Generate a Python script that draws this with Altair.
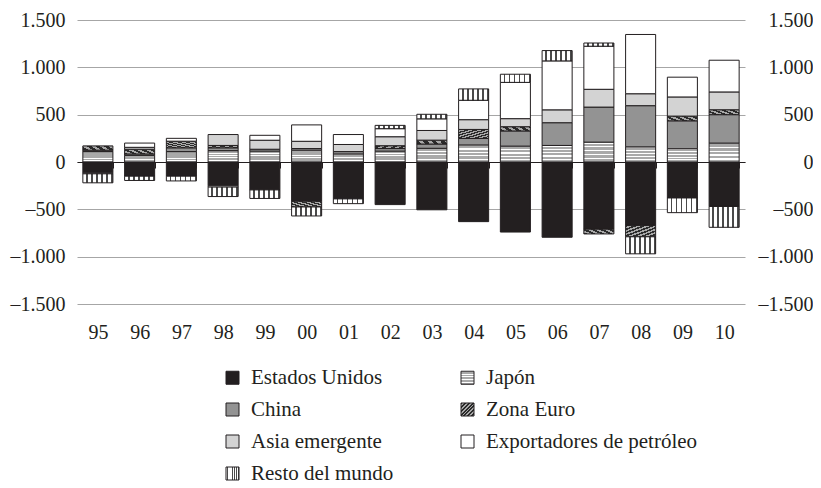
import altair as alt
import pandas as pd

# ---------------- data ----------------
years = ["95", "96", "97", "98", "99", "00", "01", "02", "03", "04", "05", "06", "07", "08", "09", "10"]
regions = ["Estados Unidos", "Japón", "China", "Zona Euro", "Asia emergente",
           "Exportadores de petróleo", "Resto del mundo"]

estados_unidos = [-115, -150, -150, -250, -295, -415, -390, -450, -505, -630, -740, -795, -710, -670, -380, -470]
japon = [110, 70, 110, 120, 115, 125, 85, 115, 145, 180, 168, 175, 210, 160, 140, 200]
china = [15, 15, 40, 30, 20, 17, 25, 27, 45, 69, 160, 240, 370, 435, 295, 300]
zona_euro = [45, 50, 70, 25, 0, -60, 0, 30, 41, 95, 45, 0, -50, -120, 50, 52]
asia_emergente = [0, 20, 0, 115, 95, 77, 75, 95, 102, 103, 85, 136, 188, 126, 202, 188]
exportadores = [-10, 45, 30, -15, 52, 173, 105, 85, 123, 205, 383, 517, 455, 626, 209, 335]
resto_mundo = [-95, -45, -50, -100, -90, -95, -50, 35, 48, 120, 86, 109, 34, -180, -155, -220]

tick_values = [-1500, -1000, -500, 0, 500, 1000, 1500]

series = [estados_unidos, japon, china, zona_euro, asia_emergente, exportadores, resto_mundo]
rows = []
for k, (name, vals) in enumerate(zip(regions, series)):
    for y, v in zip(years, vals):
        rows.append({"year": y, "region": name, "value": v, "order": k})
df = pd.DataFrame(rows)

# ---------------- styles ----------------
FONT = "Liberation Serif"
INK = "#231f20"


def stripe_expr(c1, c2, n, frac, x2, y2):
    stops = []
    for i in range(n):
        a = i / n
        b = (i + frac) / n
        c = (i + 1) / n
        stops.append("{offset: %.4f, color: '%s'}" % (a, c1))
        stops.append("{offset: %.4f, color: '%s'}" % (b, c1))
        stops.append("{offset: %.4f, color: '%s'}" % (b, c2))
        stops.append("{offset: %.4f, color: '%s'}" % (c, c2))
    return ("({gradient: 'linear', x1: 0, y1: 0, x2: %d, y2: %d, stops: [%s]})"
            % (x2, y2, ", ".join(stops)))


fills = [
    INK,
    alt.ExprRef(expr=stripe_expr("#ffffff", "#a9a9a9", 5, 0.35, 0, 1)),   # Japón: horizontal stripes
    "#939393",
    alt.ExprRef(expr=stripe_expr("#2b2b2b", "#a8a8a8", 7, 0.5, 1, 1)),    # Zona Euro: texture
    "#d3d3d3",
    "#ffffff",
    alt.ExprRef(expr=stripe_expr("#ffffff", "#4a4a4a", 6, 0.65, 1, 0)),   # Resto: dotted-like
]

label_expr = "replace(replace(format(datum.value, ','), ',', '.'), '\u2212', '\u2013')"

base = alt.Chart(df).transform_filter("datum.value != 0")

bars = base.mark_bar(stroke=INK, strokeWidth=1).encode(
    x=alt.X("year:N", sort=years,
            scale=alt.Scale(paddingInner=0.28, paddingOuter=0.14),
            axis=alt.Axis(title=None, orient="bottom", offset=-142, tickBand="extent",
                          ticks=True, tickSize=6, tickColor=INK, tickWidth=1,
                          domain=True, domainColor=INK, domainWidth=1,
                          grid=False, labelAngle=0, labelBaseline="alphabetic",
                          labelPadding=170, labelFont=FONT, labelFontSize=20,
                          labelColor=INK)),
    y=alt.Y("value:Q", stack="zero",
            scale=alt.Scale(domain=[-1500, 1500], nice=False, zero=False),
            axis=alt.Axis(title=None, orient="left", values=tick_values, grid=True,
                          gridColor="#a6a6a6", gridWidth=1, domain=False, ticks=False,
                          tickSize=0, labelPadding=12, labelFont=FONT, labelFontSize=20,
                          labelColor=INK, labelExpr=label_expr)),
    fill=alt.Fill("region:N",
                  scale=alt.Scale(domain=regions, range=fills),
                  legend=alt.Legend(orient="none", legendX=145, legendY=347, columns=2,
                                    direction="horizontal",
                                    title=None, symbolType="square", symbolSize=169,
                                    symbolStrokeColor=INK, symbolStrokeWidth=1,
                                    labelFont=FONT, labelFontSize=21, labelColor=INK,
                                    labelOffset=8, columnPadding=63, rowPadding=10,
                                    padding=0, labelLimit=400)),
    order=alt.Order("order:Q", sort="ascending"),
)

right_axis = base.mark_point(opacity=0).encode(
    y=alt.Y("value:Q",
            scale=alt.Scale(domain=[-1500, 1500], nice=False, zero=False),
            axis=alt.Axis(title=None, orient="right", values=tick_values, grid=False,
                          domain=False, ticks=False, tickSize=0, labelAlign="right",
                          labelPadding=68, labelFont=FONT, labelFontSize=20,
                          labelColor=INK, labelExpr=label_expr)),
)

chart = alt.layer(bars, right_axis).resolve_axis(y="independent").properties(
    width=668,
    height=284,
    autosize=alt.AutoSizeParams(type="none"),
    padding={"left": 69, "top": 12, "right": 68, "bottom": 180},
    background="white",
).configure_view(stroke=None)

chart.save("out.html", embed_options={"renderer": "svg", "actions": False})
